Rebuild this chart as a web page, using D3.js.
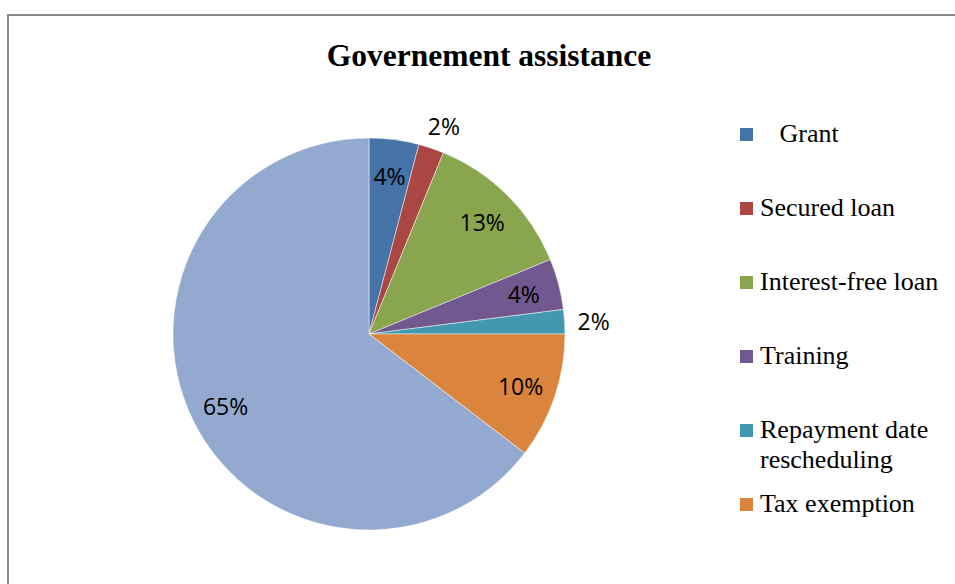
<!DOCTYPE html>
<html>
<head>
<meta charset="utf-8">
<script src="https://cdnjs.cloudflare.com/ajax/libs/d3/7.8.5/d3.min.js"></script>
<style>
  body { margin: 0; background: #fff; }
  svg { display: block; }
</style>
</head>
<body>
<svg id="chart" width="955" height="584"></svg>
<script>
// slices, clockwise from 12 o'clock (last one has no legend entry in the source)
const categories = ["Grant", "Secured loan", "Interest-free loan", "Training",
    "Repayment date rescheduling", "Tax exemption", "Other"];
const values = [4.1, 2.1, 12.6, 4.2, 2.0, 10.4, 64.6];
const colors = ["#4572A7", "#AA4643", "#89A54E", "#71588F", "#4198AF", "#DB843D", "#93A9CF"];
// legend lines as they are wrapped in the picture
const legendLines = [["   Grant"], ["Secured loan"], ["Interest-free loan"], ["Training"],
    ["Repayment date", "rescheduling"], ["Tax exemption"]];

const svg = d3.select("#chart");
const W = 955, H = 584;
const cx = 369, cy = 334, radius = 196;

// frame (only top and left edges are inside the crop)
svg.append("path")
    .attr("d", "M 8 " + H + " L 8 15 L " + W + " 15")
    .attr("fill", "none")
    .attr("stroke", "#8c8c8c")
    .attr("stroke-width", 2);

svg.append("text")
    .attr("x", 489).attr("y", 66)
    .attr("text-anchor", "middle")
    .style("font-family", "'Liberation Serif', 'Times New Roman', serif")
    .style("font-weight", "bold")
    .style("font-size", "31.5px")
    .text("Governement assistance");

const data = categories.map((c, i) => ({name: c, value: values[i], color: colors[i]}));
const total = d3.sum(values);
const pct = d3.format(".0%");

const pie = d3.pie().sort(null).value(d => d.value);
const arcs = pie(data);

const arc = d3.arc().innerRadius(0).outerRadius(radius);
const inLabel = d3.arc().innerRadius(160).outerRadius(160);
const outLabel = d3.arc().innerRadius(220).outerRadius(220);

let g = svg.append("g").attr("transform", "translate(" + cx + "," + cy + ")");

g.selectAll("path.slice")
    .data(arcs)
    .enter().append("path")
    .attr("class", "slice")
    .attr("d", arc)
    .attr("fill", d => d.data.color)
    .attr("stroke", "#ffffff")
    .attr("stroke-opacity", 0.6)
    .attr("stroke-width", 0.8);

g.selectAll("text.lbl")
    .data(arcs)
    .enter().append("text")
    .attr("class", "lbl")
    .attr("transform", function(d) {
        let p = d.data.value < 3 ? outLabel.centroid(d) : inLabel.centroid(d);
        // small outside labels sit a bit further round, like the source
        if (d.data.value < 3) p[0] += 5;
        return "translate(" + p[0] + "," + p[1] + ")";
    })
    .attr("text-anchor", "middle")
    .attr("dy", "0.42em")
    .style("font-family", "'Open Sans', 'Liberation Sans', sans-serif")
    .style("font-size", "23px")
    .style("fill", "#000")
    .text(d => pct(d.data.value / total));

// legend
const legendX = 740, legendY0 = 142, legendStep = 74;
let lg = svg.append("g");
let item = lg.selectAll("g.item")
    .data(legendLines)
    .enter().append("g")
    .attr("class", "item")
    .attr("transform", (d, i) => "translate(" + legendX + "," + (legendY0 + i * legendStep) + ")");

item.append("rect")
    .attr("x", 0).attr("y", -14)
    .attr("width", 13).attr("height", 13)
    .attr("fill", (d, i) => colors[i]);

item.append("text")
    .attr("x", 20).attr("y", 0)
    .style("font-family", "'Liberation Serif', 'Times New Roman', serif")
    .style("font-size", "26px")
    .style("white-space", "pre")
    .style("fill", "#000")
    .selectAll("tspan")
    .data(d => d)
    .enter().append("tspan")
    .attr("x", 20)
    .attr("dy", (d, j) => j === 0 ? 0 : 30)
    .text(d => d);
</script>
</body>
</html>
